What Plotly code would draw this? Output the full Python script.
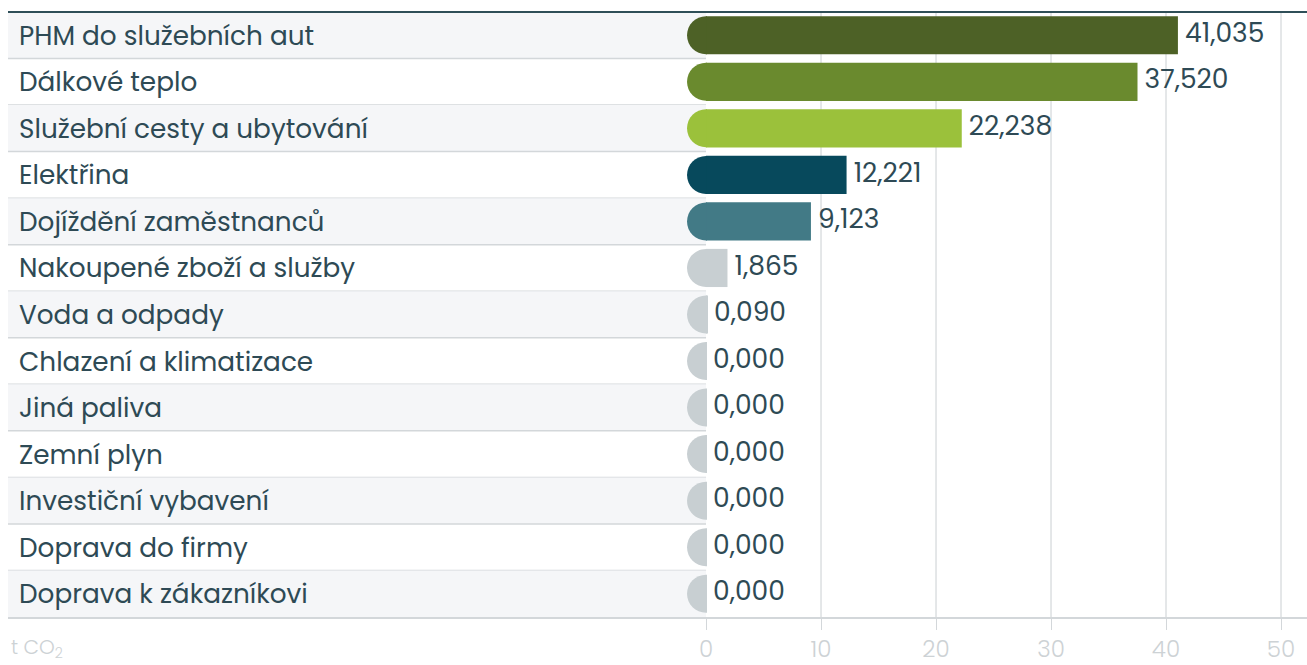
import plotly.graph_objects as go

categories = [
    "PHM do služebních aut",
    "Dálkové teplo",
    "Služební cesty a ubytování",
    "Elektřina",
    "Dojíždění zaměstnanců",
    "Nakoupené zboží a služby",
    "Voda a odpady",
    "Chlazení a klimatizace",
    "Jiná paliva",
    "Zemní plyn",
    "Investiční vybavení",
    "Doprava do firmy",
    "Doprava k zákazníkovi",
]
values = [41.035, 37.520, 22.238, 12.221, 9.123, 1.865, 0.090,
          0.000, 0.000, 0.000, 0.000, 0.000, 0.000]
bar_colors = ["#4d6126", "#6a8a2e", "#9bc13b", "#07495c", "#427a86"] + ["#c8cfd2"] * 8
tick_vals = [0, 10, 20, 30, 40, 50]

TEXT = "#2e4a55"
GRID = "#d3d7da"
FONT = "Poppins, Lato, Noto Sans, sans-serif"

x_min, x_max = -60.7, 52.26
n = len(categories)
rows = list(range(n))

# rounded cap left of zero, in pixels relative to (0, row)
r, k = 19, 10.5
CAP_PATH = (f"M 1,{r} L 0,{r} C -{k},{r} -{r},{k} -{r},0 "
            f"C -{r},-{k} -{k},-{r} 0,-{r} L 1,-{r} Z")

fig = go.Figure()

fig.add_trace(go.Bar(
    y=rows,
    x=values,
    orientation="h",
    width=0.82,
    marker=dict(color=bar_colors, line=dict(width=0)),
    hoverinfo="skip",
    showlegend=False,
))

fig.add_trace(go.Scatter(
    y=rows,
    x=values,
    mode="text",
    text=[" " + f"{v:.3f}".replace(".", ",") for v in values],
    textposition="middle right",
    textfont=dict(family=FONT, size=26.5, color=TEXT),
    hoverinfo="skip",
    showlegend=False,
))

shapes = []
annotations = []
for i, name in enumerate(categories):
    if i % 2 == 0:
        shapes.append(dict(type="rect", xref="x", yref="y", layer="below",
                           x0=x_min, x1=0, y0=i - 0.5, y1=i + 0.5,
                           fillcolor="#f5f6f8", line=dict(width=0)))
    if i < n - 1:
        shapes.append(dict(type="line", xref="x", yref="y", layer="below",
                           x0=x_min, x1=0, y0=i + 0.5, y1=i + 0.5,
                           line=dict(color=GRID, width=1.5)))
    shapes.append(dict(type="path", xref="x", yref="y", layer="between",
                       xsizemode="pixel", ysizemode="pixel", xanchor=0, yanchor=i,
                       path=CAP_PATH, fillcolor=bar_colors[i], line=dict(width=0)))
    annotations.append(dict(text=name, xref="paper", yref="y", x=0, y=i,
                            xanchor="left", yanchor="middle", xshift=9, showarrow=False,
                            font=dict(family=FONT, size=26.3, color=TEXT)))

for t in tick_vals[1:]:
    shapes.append(dict(type="line", xref="x", yref="paper", layer="below",
                       x0=t, x1=t, y0=0, y1=1, line=dict(color=GRID, width=1.2)))

# dark rule along the top
shapes.append(dict(type="line", xref="paper", yref="paper", x0=0, x1=1, y0=1, y1=1,
                   line=dict(color="#2f4f58", width=2)))

annotations.append(dict(text="t CO<sub>2</sub>", xref="paper", yref="paper", x=0, y=0,
                        xanchor="left", yanchor="top", xshift=1, yshift=-14, showarrow=False,
                        font=dict(family=FONT, size=20, color="#cdd2d5", weight=300)))

fig.update_layout(
    width=1307, height=665,
    margin=dict(l=8, r=0, t=12, b=48),
    paper_bgcolor="white", plot_bgcolor="white",
    shapes=shapes, annotations=annotations,
    xaxis=dict(range=[x_min, x_max], tickvals=tick_vals, showgrid=False, zeroline=False,
               showline=True, linecolor=GRID, linewidth=1.5,
               ticks="outside", ticklen=11, tickcolor=GRID, tickwidth=1.2,
               ticklabelstandoff=0, automargin=False,
               tickfont=dict(family=FONT, size=23, color="#cdd2d5", weight=300)),
    yaxis=dict(range=[n - 0.5, -0.5], showticklabels=False, showgrid=False,
               zeroline=False, fixedrange=True),
)

fig.write_html("out.html", config={"displayModeBar": False},
               post_script="document.body.style.margin='0';")
